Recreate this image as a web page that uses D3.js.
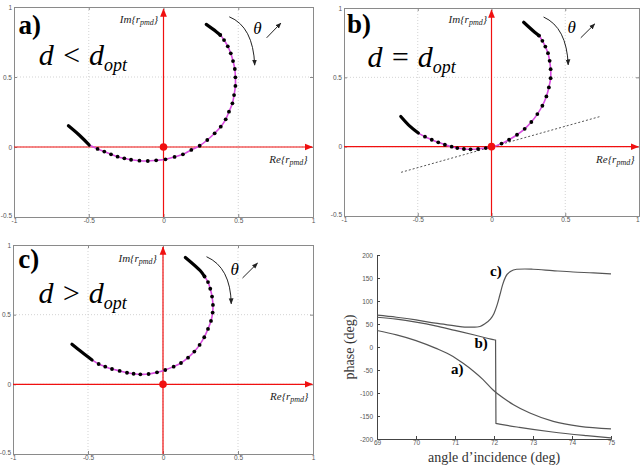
<!DOCTYPE html>
<html>
<head>
<meta charset="utf-8">
<script src="https://cdn.jsdelivr.net/npm/d3@7"></script>
<style>
  body { margin: 0; background: #fff; }
  svg { display: block; }
  .tick text { font-family: "Liberation Sans", Arial, sans-serif; font-size: 6.5px; fill: #555; }
</style>
</head>
<body>
<svg id="fig" width="640" height="465"></svg>
<script>
// ----- data -----

// reflection coefficient r_pmd in the complex plane, [Re, Im]
const curveA = [
  [-0.636, 0.152], [-0.564, 0.086], [-0.497, 0.014],
  [-0.441, -0.014], [-0.396, -0.033], [-0.351, -0.052], [-0.307, -0.069], [-0.262, -0.081],
  [-0.217, -0.091], [-0.161, -0.098], [-0.105, -0.100], [-0.049, -0.095], [0.013, -0.088],
  [0.074, -0.071], [0.130, -0.052], [0.186, -0.021], [0.242, 0.009], [0.293, 0.050],
  [0.342, 0.098], [0.383, 0.145], [0.416, 0.198], [0.438, 0.252], [0.461, 0.312],
  [0.472, 0.371], [0.481, 0.436], [0.481, 0.498], [0.477, 0.557], [0.465, 0.614],
  [0.450, 0.669], [0.430, 0.719], [0.405, 0.764], [0.380, 0.800],
  [0.353, 0.824], [0.286, 0.876]
];
const curveB = [
  [-0.615, 0.218], [-0.552, 0.146], [-0.496, 0.098],
  [-0.451, 0.072], [-0.405, 0.050], [-0.361, 0.031], [-0.316, 0.014], [-0.270, 0.000],
  [-0.232, -0.010], [-0.187, -0.017], [-0.142, -0.019], [-0.091, -0.017], [-0.039, -0.010],
  [0.011, 0.000], [0.068, 0.022], [0.119, 0.050], [0.173, 0.086], [0.225, 0.129],
  [0.270, 0.178], [0.311, 0.235], [0.345, 0.295], [0.372, 0.362], [0.389, 0.427],
  [0.401, 0.494], [0.401, 0.559], [0.394, 0.619], [0.383, 0.674], [0.365, 0.722],
  [0.345, 0.763], [0.322, 0.801],
  [0.293, 0.825], [0.218, 0.897]
];
const curveC = [
  [-0.607, 0.288], [-0.540, 0.230], [-0.473, 0.175],
  [-0.429, 0.146], [-0.385, 0.127], [-0.340, 0.110], [-0.289, 0.096], [-0.240, 0.083],
  [-0.196, 0.076], [-0.151, 0.072], [-0.096, 0.074], [-0.040, 0.086], [0.015, 0.103],
  [0.071, 0.127], [0.120, 0.153], [0.167, 0.191], [0.209, 0.235], [0.244, 0.283],
  [0.275, 0.338], [0.300, 0.398], [0.320, 0.455], [0.331, 0.515], [0.333, 0.570],
  [0.327, 0.630], [0.315, 0.686], [0.300, 0.734], [0.277, 0.774],
  [0.249, 0.815], [0.149, 0.911]
];
// tangent drawn in panel b
const tangentB = [[-0.613, -0.185], [0.738, 0.218]];

// phase versus angle of incidence, [deg, deg]
const phaseA = [
  [69, 35.8], [69.5, 26.4], [70.0, 14], [70.5, -2.5], [70.95, -20.6], [71.2, -35],
  [71.46, -51.7], [71.72, -71], [71.97, -93], [72.24, -111], [72.5, -125.5],
  [72.92, -143.6], [73.52, -161.7], [74.2, -172.5], [75, -178]
];
const phaseB = [
  [69, 64.7], [69.5, 60.4], [70.0, 54], [70.5, 46], [71.0, 36], [71.5, 26], [71.98, 16],
  [72.04, 15], [72.05, -166], [72.14, -167.5], [72.65, -174.7], [73.5, -184.8],
  [74.38, -192.8], [75, -197.8]
];
const phaseC = [
  [69, 69.1], [69.5, 64.7], [70.0, 59], [70.5, 51.7], [71.0, 46], [71.25, 43], [71.5, 43],
  [71.64, 44.5], [71.76, 50], [71.9, 60], [72.0, 73], [72.08, 91.5], [72.15, 113],
  [72.22, 135], [72.3, 153], [72.42, 164], [72.58, 169], [72.79, 169.6], [73.0, 169],
  [73.5, 166], [74.03, 163], [74.55, 161], [75, 158.8]
];

const reTicks = [-1, -0.5, 0, 0.5, 1];
const imTicks = [-0.5, 0, 0.5, 1];
const angleTicks = [69, 70, 71, 72, 73, 74, 75];
const phaseTicks = [-200, -150, -100, -50, 0, 50, 100, 150, 200];

// ----- drawing -----
const svg = d3.select('#fig');
const serif = '"Liberation Serif", "Times New Roman", serif';
const plain = d => String(d);

const defs = svg.append('defs');
function marker(id, color, size) {
  defs.append('marker')
    .attr('id', id).attr('viewBox', '0 0 10 10')
    .attr('refX', 9).attr('refY', 5)
    .attr('markerWidth', size).attr('markerHeight', size)
    .attr('orient', 'auto-start-reverse')
    .append('path').attr('d', 'M0,1 L10,5 L0,9 z').attr('fill', color);
}
marker('redArrow', '#f01010', 7);
marker('blackArrow', '#222', 6);

const polarPanels = [
  { pts: curveA, box: [14, 7, 313, 217], label: 'a)', rel: '<', tangent: null,
    lab: [-0.97, 0.81], eq: [-0.835, 0.585], im: [-0.035, 0.885], re: [0.965, -0.115],
    theta: [0.6, 0.81], arc: [[0.44, 0.93], [0.6, 0.86], [0.61, 0.585]], up: [[0.69, 0.78], [0.785, 0.885]] },
  { pts: curveB, box: [344, 8, 639, 216], label: 'b)', rel: '=', tangent: tangentB,
    lab: [-0.98, 0.82], eq: [-0.84, 0.575], im: [-0.03, 0.89], re: [0.97, -0.115],
    theta: [0.515, 0.82], arc: [[0.353, 0.935], [0.51, 0.86], [0.52, 0.59]], up: [[0.605, 0.785], [0.70, 0.885]] },
  { pts: curveC, box: [13, 245, 313, 454], label: 'c)', rel: '>', tangent: null,
    lab: [-0.965, 0.837], eq: [-0.83, 0.585], im: [-0.04, 0.88], re: [0.97, -0.11],
    theta: [0.45, 0.786], arc: [[0.29, 0.916], [0.45, 0.84], [0.455, 0.578]], up: [[0.53, 0.763], [0.63, 0.87]] }
];

polarPanels.forEach(p => {
  const [x0, y0, x1, y1] = p.box;
  const x = d3.scaleLinear().domain([-1, 1]).range([x0, x1]);
  const y = d3.scaleLinear().domain([-0.5, 1]).range([y1, y0]);
  const g = svg.append('g');

  // dotted grid
  g.selectAll('.gx').data(reTicks.slice(1, -1)).join('line')
    .attr('x1', d => x(d)).attr('x2', d => x(d)).attr('y1', y0).attr('y2', y1)
    .attr('stroke', '#c8c8c8').attr('stroke-width', 0.8).attr('stroke-dasharray', '1,2');
  g.selectAll('.gy').data(imTicks.slice(1, -1)).join('line')
    .attr('y1', d => y(d)).attr('y2', d => y(d)).attr('x1', x0).attr('x2', x1)
    .attr('stroke', '#c8c8c8').attr('stroke-width', 0.8).attr('stroke-dasharray', '1,2');

  // frame with inward ticks
  const axB = g.append('g').attr('transform', `translate(0,${y1})`)
    .call(d3.axisBottom(x).tickValues(reTicks).tickSize(-3).tickPadding(3).tickFormat(plain));
  const axL = g.append('g').attr('transform', `translate(${x0},0)`)
    .call(d3.axisLeft(y).tickValues(imTicks).tickSize(-3).tickPadding(2).tickFormat(plain));
  g.append('g').attr('transform', `translate(0,${y0})`)
    .call(d3.axisTop(x).tickValues(reTicks).tickSize(-3).tickFormat(''));
  g.append('g').attr('transform', `translate(${x1},0)`)
    .call(d3.axisRight(y).tickValues(imTicks).tickSize(-3).tickFormat(''));
  g.selectAll('.domain').attr('stroke', '#8a8a8a');
  g.selectAll('.tick line').attr('stroke', '#8a8a8a');
  axB.selectAll('text').attr('dy', '0.5em');
  // keep the outermost labels inside the page
  axB.selectAll('text').filter(d => d === 1 && x1 > 630).attr('text-anchor', 'end');
  axL.selectAll('text').filter(d => d === -0.5).attr('dy', '0.1em');

  // tangent line (panel b)
  if (p.tangent) {
    g.append('path').datum(p.tangent)
      .attr('d', d3.line().x(d => x(d[0])).y(d => y(d[1])))
      .attr('stroke', '#555').attr('stroke-width', 1).attr('stroke-dasharray', '2,2').attr('fill', 'none');
  }

  // red axes
  g.append('line').attr('x1', x0).attr('x2', x(0.995)).attr('y1', y(0)).attr('y2', y(0))
    .attr('stroke', '#f01010').attr('stroke-width', 1.2).attr('marker-end', 'url(#redArrow)');
  g.append('line').attr('x1', x(0)).attr('x2', x(0)).attr('y1', y1).attr('y2', y(0.985))
    .attr('stroke', '#f01010').attr('stroke-width', 1.2).attr('marker-end', 'url(#redArrow)');

  // locus of r_pmd
  const line = d3.line().x(d => x(d[0])).y(d => y(d[1])).curve(d3.curveCatmullRom);
  g.append('path').datum(p.pts.slice(2, -1)).attr('d', line)
    .attr('fill', 'none').attr('stroke', '#d94ee0').attr('stroke-width', 1.6);
  g.append('path').datum(p.pts.slice(0, 3)).attr('d', line)
    .attr('fill', 'none').attr('stroke', '#000').attr('stroke-width', 3.2).attr('stroke-linecap', 'round');
  g.append('path').datum(p.pts.slice(-3)).attr('d', line)
    .attr('fill', 'none').attr('stroke', '#000').attr('stroke-width', 3.2).attr('stroke-linecap', 'round');
  g.selectAll('circle.pt').data(p.pts.slice(3, -2)).join('circle')
    .attr('cx', d => x(d[0])).attr('cy', d => y(d[1])).attr('r', 1.9).attr('fill', '#000');

  // origin
  g.append('circle').attr('cx', x(0)).attr('cy', y(0)).attr('r', 3.8).attr('fill', '#f01010');

  // labels
  g.append('text').attr('x', x(p.lab[0])).attr('y', y(p.lab[1]))
    .attr('font-family', serif).attr('font-weight', 'bold').attr('font-size', 27).text(p.label);

  const eq = g.append('text').attr('x', x(p.eq[0])).attr('y', y(p.eq[1]))
    .attr('font-family', serif).attr('font-style', 'italic').attr('font-size', 30);
  eq.append('tspan').text(`d ${p.rel} d`);
  eq.append('tspan').attr('font-size', 18).attr('dy', 6).text('opt');

  function cplx(pos, name) {
    const t = g.append('text').attr('x', x(pos[0])).attr('y', y(pos[1]))
      .attr('text-anchor', 'end').attr('font-family', serif).attr('font-style', 'italic')
      .attr('font-size', 11).attr('fill', '#222');
    t.append('tspan').text(`${name}{r`);
    t.append('tspan').attr('font-size', 8).attr('dy', 2).text('pmd');
    t.append('tspan').attr('dy', -2).text('}');
  }
  cplx(p.im, 'Im');
  cplx(p.re, 'Re');

  g.append('text').attr('x', x(p.theta[0])).attr('y', y(p.theta[1]))
    .attr('font-family', serif).attr('font-style', 'italic').attr('font-size', 17).text('θ');
  g.append('line')
    .attr('x1', x(p.up[0][0])).attr('y1', y(p.up[0][1]))
    .attr('x2', x(p.up[1][0])).attr('y2', y(p.up[1][1]))
    .attr('stroke', '#222').attr('stroke-width', 1).attr('marker-end', 'url(#blackArrow)');
  const a = p.arc;
  g.append('path')
    .attr('d', `M${x(a[0][0])},${y(a[0][1])} Q${x(a[1][0])},${y(a[1][1])} ${x(a[2][0])},${y(a[2][1])}`)
    .attr('fill', 'none').attr('stroke', '#222').attr('stroke-width', 1).attr('marker-end', 'url(#blackArrow)');
});

// ----- phase panel -----
{
  const x = d3.scaleLinear().domain([69, 75]).range([377, 611]);
  const y = d3.scaleLinear().domain([-200, 200]).range([439, 255]);
  const g = svg.append('g');

  const axB = g.append('g').attr('transform', `translate(0,${y(-200)})`)
    .call(d3.axisBottom(x).tickValues(angleTicks).tickSize(-3).tickPadding(3).tickFormat(plain));
  g.append('g').attr('transform', `translate(${x(69)},0)`)
    .call(d3.axisLeft(y).tickValues(phaseTicks).tickSize(-3).tickPadding(4).tickFormat(plain));
  g.selectAll('.domain').attr('stroke', '#444');
  g.selectAll('.tick line').attr('stroke', '#444');
  axB.selectAll('text').attr('dy', '0.5em');

  const line = d3.line().x(d => x(d[0])).y(d => y(d[1])).curve(d3.curveMonotoneX);
  [phaseA, phaseB, phaseC].forEach(s => {
    g.append('path').datum(s).attr('d', line)
      .attr('fill', 'none').attr('stroke', '#555').attr('stroke-width', 1.2);
  });

  const tag = (txt, xv, yv) => g.append('text').attr('x', x(xv)).attr('y', y(yv))
    .attr('font-family', serif).attr('font-weight', 'bold').attr('font-size', 15).text(txt);
  tag('c)', 71.9, 155);
  tag('b)', 71.5, -3);
  tag('a)', 70.9, -58);

  g.append('text').attr('x', (x(69) + x(75)) / 2).attr('y', 462)
    .attr('text-anchor', 'middle').attr('font-family', serif).attr('font-size', 14)
    .attr('fill', '#333').text('angle d’incidence (deg)');
  g.append('text').attr('transform', `translate(354,${y(0)}) rotate(-90)`)
    .attr('text-anchor', 'middle').attr('font-family', serif).attr('font-size', 14)
    .attr('fill', '#333').text('phase (deg)');
}
</script>
</body>
</html>
